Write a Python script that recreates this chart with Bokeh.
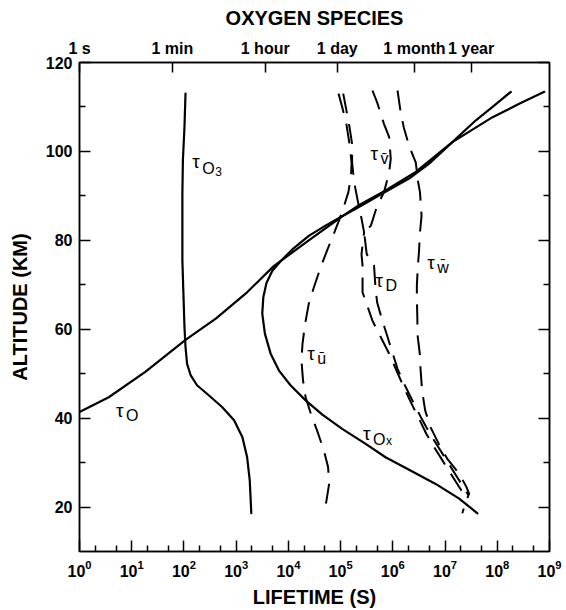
from bokeh.plotting import figure
from bokeh.models import Range1d, LogAxis, LinearAxis, FixedTicker
from bokeh.core.properties import value
from bokeh.embed import file_html
from bokeh.resources import INLINE

# ---- data: log10(lifetime / s) versus altitude (km) ----
tauO_log10s = [0.00, 0.56, 1.26, 2.03, 2.61, 3.18, 3.72, 4.39, 5.03, 5.35, 5.86, 6.44, 7.14, 7.91, 8.42, 8.90]
tauO_alt = [41.4, 44.7, 50.4, 57.6, 62.4, 68.0, 74.2, 80.0, 85.4, 87.9, 91.2, 95.4, 102.1, 107.7, 110.7, 113.4]

tauO3_log10s = [2.03, 2.01, 1.98, 1.97, 1.97, 1.97, 1.99, 2.01, 2.03, 2.06, 2.13, 2.25, 2.48, 2.73, 2.96, 3.12, 3.21, 3.26, 3.29]
tauO3_alt = [113.0, 105.5, 98.0, 90.5, 83.0, 75.5, 68.0, 60.5, 56.0, 52.2, 49.6, 47.4, 45.1, 42.5, 39.5, 35.7, 31.2, 26.0, 18.6]

tauOx_log10s = [7.62, 7.27, 6.82, 6.31, 5.86, 5.48, 5.03, 4.65, 4.33, 4.04, 3.82, 3.66, 3.55, 3.50, 3.52, 3.58, 3.69,
                3.85, 4.07, 4.39, 4.71, 5.03, 5.35, 5.80, 6.31, 6.69, 7.14, 7.59, 7.91, 8.26]
tauOx_alt = [18.6, 21.9, 25.2, 28.4, 31.2, 34.2, 37.6, 40.8, 44.0, 47.4, 50.7, 54.5, 59.0, 63.5, 67.2, 70.4, 73.1,
             75.3, 77.9, 81.0, 83.3, 85.4, 87.5, 90.5, 93.9, 97.2, 102.1, 107.0, 110.0, 113.4]

tauU_log10s = [4.96, 5.03, 5.11, 5.17, 5.21, 5.20, 5.15, 5.06, 4.97, 4.87, 4.74, 4.62, 4.49, 4.39, 4.32, 4.27, 4.25,
               4.28, 4.33, 4.43, 4.55, 4.68, 4.76, 4.78, 4.73, 4.68]
tauU_alt = [113.0, 110.0, 106.2, 101.7, 97.5, 94.6, 90.9, 87.5, 84.5, 81.5, 77.7, 74.0, 69.5, 65.7, 61.2, 56.7, 53.0,
            48.5, 44.7, 41.0, 37.2, 32.7, 29.0, 25.2, 21.5, 18.5]

tauD_log10s = [5.05, 5.11, 5.17, 5.22, 5.22, 5.26, 5.34, 5.40, 5.45, 5.40, 5.42, 5.42, 5.51, 5.61, 5.77, 5.93, 6.07,
               6.21, 6.36, 6.50, 6.64, 6.79, 6.95, 7.11, 7.27, 7.38]
tauD_alt = [113.0, 109.3, 105.5, 101.7, 97.5, 93.0, 88.2, 84.9, 81.8, 76.9, 74.3, 68.3, 65.3, 61.9, 58.2, 54.5, 50.7,
            47.0, 43.2, 39.9, 36.5, 33.5, 30.5, 27.5, 24.5, 22.6]

tauV_log10s = [5.61, 5.70, 5.83, 5.93, 5.96, 5.93, 5.83, 5.70, 5.58, 5.45, 5.50, 5.64, 5.67, 5.70, 5.80, 5.89, 5.98,
               6.09, 6.23, 6.39, 6.55, 6.71, 6.87, 7.03, 7.19, 7.33, 7.45]
tauV_alt = [113.7, 111.0, 106.2, 103.2, 98.3, 95.3, 90.8, 87.8, 83.3, 81.8, 76.9, 74.3, 69.0, 66.0, 61.9, 58.6, 55.2,
            51.1, 47.4, 43.6, 39.9, 36.5, 33.5, 30.5, 27.5, 24.9, 22.6]

tauW_log10s = [6.09, 6.15, 6.21, 6.31, 6.44, 6.48, 6.52, 6.55, 6.52, 6.50, 6.48, 6.46, 6.46, 6.47, 6.47, 6.52, 6.53,
               6.56, 6.62, 6.72, 6.88, 7.04, 7.27, 7.41, 7.46, 7.39, 7.33]
tauW_alt = [113.7, 108.8, 105.4, 101.3, 97.5, 93.4, 90.8, 85.5, 81.8, 77.3, 74.3, 69.8, 66.8, 62.3, 59.0, 54.1, 51.1,
            46.2, 41.7, 38.0, 34.2, 30.9, 27.5, 24.5, 23.0, 20.9, 18.6]

# axis ticks
x_decades = list(range(0, 10))
y_major = [20, 40, 60, 80, 100, 120]
y_minor = [30, 50, 70, 90, 110]
top_tick_seconds = [1, 60, 3600, 86400, 2592000, 31536000]
top_tick_labels = ["1 s", "1 min", "1 hour", "1 day", "1 month", "1 year"]

FONT = "Liberation Sans"

p = figure(width=566, height=610, x_axis_type="log", x_range=Range1d(1, 1e9), y_range=Range1d(10, 120),
           output_backend="svg", toolbar_location=None,
           min_border_left=79, min_border_right=17, min_border_top=62, min_border_bottom=59)
p.grid.visible = False
p.outline_line_color = "black"
p.outline_line_width = 1.5
p.background_fill_color = "white"
p.border_fill_color = "white"


def style_axis(ax, major_in=11, minor_in=6):
    ax.axis_line_color = "black"
    ax.axis_line_width = 1.5
    ax.major_tick_in = major_in
    ax.major_tick_out = 0
    ax.minor_tick_in = minor_in
    ax.minor_tick_out = 0
    ax.major_tick_line_width = 1.5
    ax.minor_tick_line_width = 1.5
    ax.major_tick_line_color = "black"
    ax.minor_tick_line_color = "black"
    ax.major_label_text_font = FONT
    ax.major_label_text_font_size = "16px"
    ax.major_label_text_font_style = "bold"
    ax.major_label_text_color = "black"
    ax.axis_label_text_font = FONT
    ax.axis_label_text_font_size = "20px"
    ax.axis_label_text_font_style = "bold"
    ax.axis_label_text_color = "black"


# bottom axis
xb = p.xaxis[0]
xb.ticker = FixedTicker(ticks=[10.0 ** k for k in x_decades],
                        minor_ticks=[m * 10.0 ** k for k in x_decades[:-1] for m in (2, 5)])
style_axis(xb)
xb.axis_label = "LIFETIME (S)"
xb.major_label_standoff = 8
xb.axis_label_standoff = 6

# left axis
yl = p.yaxis[0]
yl.ticker = FixedTicker(ticks=y_major, minor_ticks=y_minor)
style_axis(yl)
yl.axis_label = "ALTITUDE (KM)"
yl.major_label_standoff = 7
yl.axis_label_standoff = 12

# right axis (ticks only)
yr = LinearAxis(ticker=FixedTicker(ticks=y_major, minor_ticks=y_minor),
                major_label_overrides={v: "" for v in y_major})
style_axis(yr)
p.add_layout(yr, "right")

# top axis with time units
xt = LogAxis(ticker=FixedTicker(ticks=top_tick_seconds, minor_ticks=[]),
             major_label_overrides=dict(zip(top_tick_seconds, top_tick_labels)))
style_axis(xt, major_in=10, minor_in=0)
xt.axis_label = "OXYGEN SPECIES"
xt.major_label_standoff = 6
xt.axis_label_standoff = 8
p.add_layout(xt, "above")


def to_s(logs):
    return [10.0 ** v for v in logs]


solid = dict(line_color="black", line_width=2.2, line_join="round", line_cap="round")
dashed = dict(line_color="black", line_width=2.0, line_dash="20 11", line_join="round")

p.line(to_s(tauO_log10s), tauO_alt, **solid)
p.line(to_s(tauO3_log10s), tauO3_alt, **solid)
p.line(to_s(tauOx_log10s), tauOx_alt, **solid)
p.line(to_s(tauU_log10s), tauU_alt, **dashed)
p.line(to_s(tauD_log10s), tauD_alt, **dashed)
p.line(to_s(tauV_log10s), tauV_alt, **dashed)
p.line(to_s(tauW_log10s), tauW_alt, **dashed)


def add_tau(logt, alt, sub, subsub=None, sub_dy=5, subsub_dx=13, subsub_dy=9):
    x = [10.0 ** logt]
    y = [alt]
    common = dict(text_font=value(FONT), text_color="black", text_align="left", text_baseline="alphabetic")
    p.text(x=x, y=y, text=["\u03c4"], text_font_size="19px", **common)
    p.text(x=x, y=y, text=[sub], text_font_size="16px", x_offset=10, y_offset=sub_dy, **common)
    if subsub:
        p.text(x=x, y=y, text=[subsub], text_font_size="12px", x_offset=10 + subsub_dx, y_offset=subsub_dy, **common)


add_tau(0.70, 41.7, "O")
add_tau(2.16, 97.8, "O", "3", sub_dy=7, subsub_dx=13, subsub_dy=10)
add_tau(4.36, 54.5, "u\u0304")
add_tau(5.43, 36.5, "O", "x", sub_dy=6, subsub_dx=13, subsub_dy=7)
add_tau(5.57, 99.5, "v\u0304")
add_tau(5.67, 71.0, "D")
add_tau(6.66, 75.1, "w\u0304")

open("out.html", "w").write(file_html(p, INLINE))
